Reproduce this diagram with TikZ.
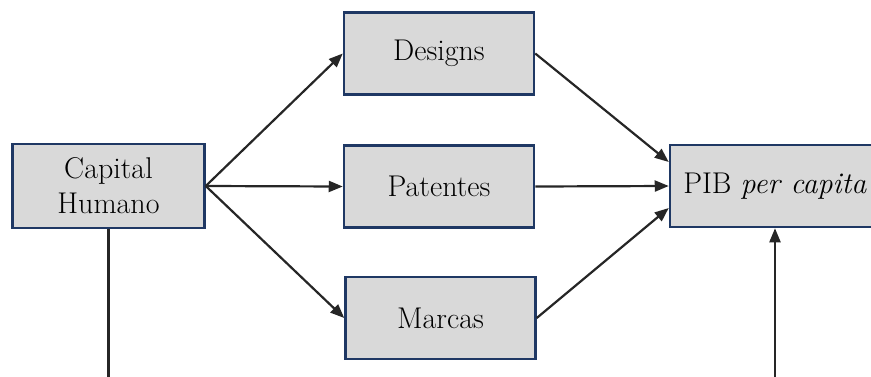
\documentclass[tikz,border=0pt]{standalone}
\usepackage{fontspec}
\usetikzlibrary{arrows.meta}
\definecolor{boxfill}{HTML}{D9D9D9}
\definecolor{boxedge}{HTML}{1F3864}
\definecolor{linkcol}{HTML}{262626}
\tikzset{
  block/.style={draw=boxedge, line width=2.5pt, fill=boxfill, inner sep=0pt,
    minimum width=190pt, minimum height=82pt, align=center,
    font=\fontsize{30}{35}\selectfont},
  link/.style={draw=linkcol, line width=2.2pt,
    -{Triangle[length=14pt,width=11pt]}},
  plain/.style={draw=linkcol, line width=2.2pt}
}
\begin{document}
\begin{tikzpicture}[x=1pt,y=-1pt]
\useasboundingbox (0,0) rectangle (871,376);
\clip (0,0) rectangle (871,376);
% boxes
\node[block, minimum width=192pt, minimum height=84pt] (ch) at (108.5,186) {Capital\\Humano};
\node[block] (des) at (439,53.5) {Designs};
\node[block] (pat) at (439,186.5) {Patentes};
\node[block] (mar) at (440.5,318) {Marcas};
\node[block, minimum width=210pt] (pib) at (775,186) {PIB \textit{per capita}};
% free ends at the lower border
\coordinate (chdown) at (ch.south |- 0,380);
\coordinate (pibup) at (pib.south |- 0,380);
% links from human capital
\draw[link] (ch.east) -- (des.west);
\draw[link] (ch.east) -- (pat.west);
\draw[link] (ch.east) -- (mar.west);
% links into GDP per capita
\draw[link] (des.east) -- ([yshift=24pt]pib.west);
\draw[link] (pat.east) -- (pib.west);
\draw[link] (mar.east) -- ([yshift=-22pt]pib.west);
% vertical lines leaving the frame
\draw[plain] (ch.south) -- (chdown);
\draw[link] (pibup) -- (pib.south);
\end{tikzpicture}
\end{document}
